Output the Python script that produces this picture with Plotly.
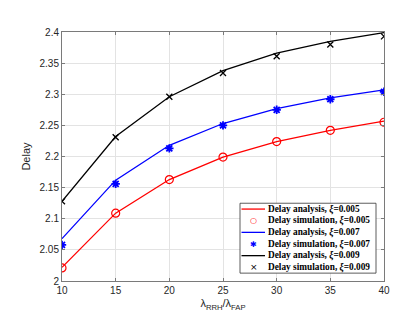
import plotly.graph_objects as go

x_vals = [10, 15, 20, 25, 30, 35, 40]

analysis_005 = [2.022, 2.109, 2.163, 2.199, 2.224, 2.242, 2.257]
simulation_005 = [2.021, 2.109, 2.163, 2.199, 2.224, 2.242, 2.255]
analysis_007 = [2.068, 2.162, 2.218, 2.253, 2.277, 2.294, 2.307]
simulation_007 = [2.058, 2.156, 2.213, 2.250, 2.275, 2.292, 2.304]
analysis_009 = [2.128, 2.232, 2.296, 2.338, 2.366, 2.385, 2.399]
simulation_009 = [2.128, 2.231, 2.296, 2.334, 2.361, 2.380, 2.393]

legend_labels = [
    "Delay analysis, <i>ξ</i>=0.005",
    "Delay simulation, <i>ξ</i>=0.005",
    "Delay analysis, <i>ξ</i>=0.007",
    "Delay simulation, <i>ξ</i>=0.007",
    "Delay analysis, <i>ξ</i>=0.009",
    "Delay simulation, <i>ξ</i>=0.009",
]

RED, BLUE, BLACK = "#ff0000", "#0000ff", "#000000"

fig = go.Figure()
fig.add_trace(go.Scatter(x=x_vals, y=analysis_005, mode="lines", line=dict(color=RED, width=1.3)))
fig.add_trace(go.Scatter(x=x_vals, y=simulation_005, mode="markers",
                         marker=dict(symbol="circle-open", size=8, color=RED, line=dict(width=1.2, color=RED))))
fig.add_trace(go.Scatter(x=x_vals, y=analysis_007, mode="lines", line=dict(color=BLUE, width=1.3)))
fig.add_trace(go.Scatter(x=x_vals, y=simulation_007, mode="markers",
                         marker=dict(symbol="asterisk-open", size=7, color=BLUE, line=dict(width=1.8, color=BLUE))))
fig.add_trace(go.Scatter(x=x_vals, y=analysis_009, mode="lines", line=dict(color=BLACK, width=1.3)))
fig.add_trace(go.Scatter(x=x_vals, y=simulation_009, mode="markers",
                         marker=dict(symbol="x-thin-open", size=6, color=BLACK, line=dict(width=1.3, color=BLACK))))

# plot area in pixels
L, R, T, B = 54, 376, 24, 277
def px(v):
    return (v - L) / (R - L)
def py(v):
    return (B - v) / (B - T)

shapes = []
annotations = []
# legend box
shapes.append(dict(type="rect", xref="paper", yref="paper",
                   x0=px(232), x1=px(368), y0=py(269), y1=py(198),
                   line=dict(color="#333333", width=0.8), fillcolor="white", layer="above"))
row_h = (269 - 198) / 6.0
styles = [("line", RED), ("○", RED), ("line", BLUE), ("✱", BLUE), ("line", BLACK), ("×", BLACK)]
for i, (lab, (kind, col)) in enumerate(zip(legend_labels, styles)):
    yc = 198 + row_h * (i + 0.5)
    if kind == "line":
        shapes.append(dict(type="line", xref="paper", yref="paper",
                           x0=px(233.5), x1=px(257), y0=py(yc), y1=py(yc),
                           line=dict(color=col, width=1.3), layer="above"))
    else:
        annotations.append(dict(xref="paper", yref="paper", x=px(245.5), y=py(yc),
                                text=kind, showarrow=False, xanchor="center", yanchor="middle",
                                font=dict(family="DejaVu Sans", size=8 if kind != "×" else 9, color=col)))
    annotations.append(dict(xref="paper", yref="paper", x=px(258), y=py(yc),
                            text="<b>" + lab + "</b>", showarrow=False, xanchor="left", yanchor="middle",
                            font=dict(family="Liberation Serif", size=9.3, color="#000000")))

axis_common = dict(showline=True, linecolor="#7a7a7a", linewidth=1, mirror="ticks",
                   ticks="inside", ticklen=3, tickcolor="#7a7a7a", tickwidth=1,
                   showgrid=True, gridcolor="#e3e3e3", gridwidth=1, zeroline=False,
                   tickfont=dict(family="Liberation Sans", size=10, color="#262626"))

fig.update_layout(
    width=415, height=312,
    margin=dict(l=L, r=415 - R, t=T, b=312 - B),
    paper_bgcolor="white", plot_bgcolor="white",
    showlegend=False,
    xaxis=dict(range=[10, 40], tickvals=[10, 15, 20, 25, 30, 35, 40],
               title=dict(text="λ<sub>RRH</sub>/λ<sub>FAP</sub>", standoff=4,
                          font=dict(family="Liberation Sans", size=11, color="#262626")),
               **axis_common),
    yaxis=dict(range=[2, 2.4], tickvals=[2, 2.05, 2.1, 2.15, 2.2, 2.25, 2.3, 2.35, 2.4],
               ticktext=["2", "2.05", "2.1", "2.15", "2.2", "2.25", "2.3", "2.35", "2.4"],
               title=dict(text="Delay", standoff=6,
                          font=dict(family="Liberation Sans", size=11, color="#262626")),
               **axis_common),
    shapes=shapes,
    annotations=annotations,
)

fig.write_html("out.html")
